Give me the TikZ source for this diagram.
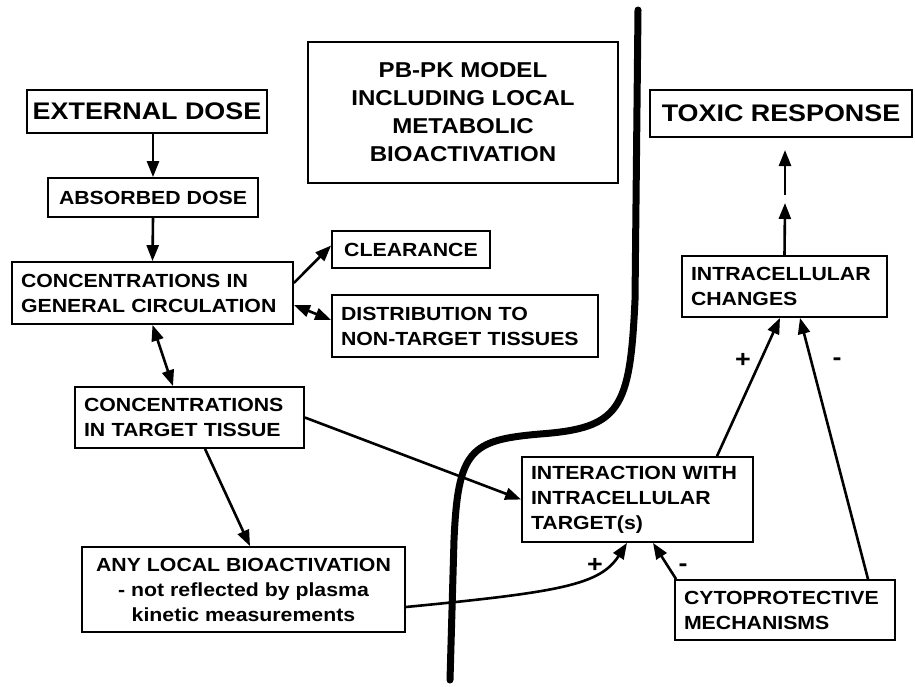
\documentclass[tikz,border=0pt]{standalone}
\usepackage{fontspec}
\setmainfont{Liberation Sans}[FakeStretch=1.12]
\usetikzlibrary{arrows.meta}
\newcommand{\lbl}{\fontsize{19}{25}\selectfont\bfseries}
\newcommand{\hdr}{\fontsize{24}{30}\selectfont\bfseries}
\newcommand{\mdl}{\fontsize{21.5}{28}\selectfont\bfseries}

\begin{document}
\begin{tikzpicture}[x=1pt,y=-1pt,
    box/.style={draw,line width=1.8pt,inner sep=0pt,font=\lbl},
    lbox/.style={box,align=left,inner xsep=9pt,text width=#1},
    cbox/.style={box,align=center},
    arr/.style={-{Triangle[length=16pt,width=12pt]},line width=2.6pt},
    darr/.style={{Triangle[length=16pt,width=12pt]}-{Triangle[length=16pt,width=12pt]},line width=2.6pt},
    sign/.style={font=\fontsize{24}{24}\selectfont\bfseries}]
  \useasboundingbox[fill=white] (0,0) rectangle (915,686);
  \draw[line width=7pt,line cap=round] (638,10) -- (635,300)
      .. controls (630,410) and (620,428) .. (540,434)
      .. controls (470,440) and (458,450) .. (454,540) -- (450,680);
  \node[cbox,font=\hdr,minimum width=240pt,minimum height=43pt] (ext) at (147,111.5) {EXTERNAL DOSE};
  \node[cbox,minimum width=210pt,minimum height=39pt] (abs) at (153,197.5) {ABSORBED DOSE};
  \node[lbox=263pt,minimum height=62pt] (gen) at (152.5,293) {CONCENTRATIONS IN\\GENERAL CIRCULATION};
  \node[lbox=211pt,minimum height=61pt] (tgt) at (189.5,417.5) {CONCENTRATIONS\\IN TARGET TISSUE};
  \node[cbox,minimum width=158pt,minimum height=37pt] (clr) at (411,249.5) {CLEARANCE};
  \node[lbox=248pt,minimum height=62pt] (dist) at (465,326) {DISTRIBUTION TO\\NON-TARGET TISSUES};
  \node[cbox,font=\mdl,line width=2.6pt,minimum width=310pt,minimum height=141pt] (pbpk) at (463,112.5)
      {PB-PK MODEL\\INCLUDING LOCAL\\METABOLIC\\BIOACTIVATION};
  \node[cbox,font=\hdr,minimum width=262pt,minimum height=47pt] (tox) at (781,113.5) {TOXIC RESPONSE};
  \node[lbox=187pt,minimum height=61pt] (icc) at (784.5,286.5) {INTRACELLULAR\\CHANGES};
  \node[lbox=213pt,minimum height=85pt] (inter) at (637.5,499.5) {INTERACTION WITH\\INTRACELLULAR\\TARGET(s)};
  \node[lbox=202pt,minimum height=60pt] (cyto) at (785,610) {CYTOPROTECTIVE\\MECHANISMS};
  \node[cbox,minimum width=323pt,minimum height=85pt] (any) at (243.5,589.5)
      {ANY LOCAL BIOACTIVATION\\- not reflected by plasma\\kinetic measurements};
  \coordinate (gap) at (785,199);
  \coordinate (tip) at (785,150);

  \draw[arr] (abs.north |- ext.south) -- (abs.north);
  \draw[arr] (abs.south) -- (gen.north);
  \draw[darr] (gen.south) -- ([xshift=-16.5pt]tgt.north);
  \draw[arr] ([yshift=10pt]gen.east) -- ([yshift=4pt]clr.west);
  \draw[darr] ([yshift=-12pt]gen.east) -- ([yshift=6pt]dist.west);
  \draw[arr] (tgt.east) -- (inter.west);
  \draw[arr] ([xshift=15.5pt]tgt.south) -- ([xshift=6.5pt]any.north);
  \draw[arr] ([yshift=-17.5pt]any.east) .. controls (560,592) and (600,585) .. ([xshift=-10.5pt]inter.south);
  \node[sign] (p1) at (595,565) {+};
  \draw[arr] ([xshift=79.5pt]inter.north) -- ([xshift=-4.5pt]icc.south);
  \node[sign] (p2) at (743,360) {+};
  \draw[arr] ([xshift=83pt]cyto.north) -- ([xshift=15.5pt]icc.south);
  \node[sign] (m1) at (837,362) {-};
  \draw[arr] ([xshift=2pt]cyto.north west) -- ([xshift=15.5pt]inter.south);
  \node[sign] (m2) at (683,568) {-};
  \draw[arr] (icc.north) -- ([yshift=-4pt]gap);
  \draw[arr] ([yshift=4pt]gap) -- (tip);
\end{tikzpicture}
\end{document}
